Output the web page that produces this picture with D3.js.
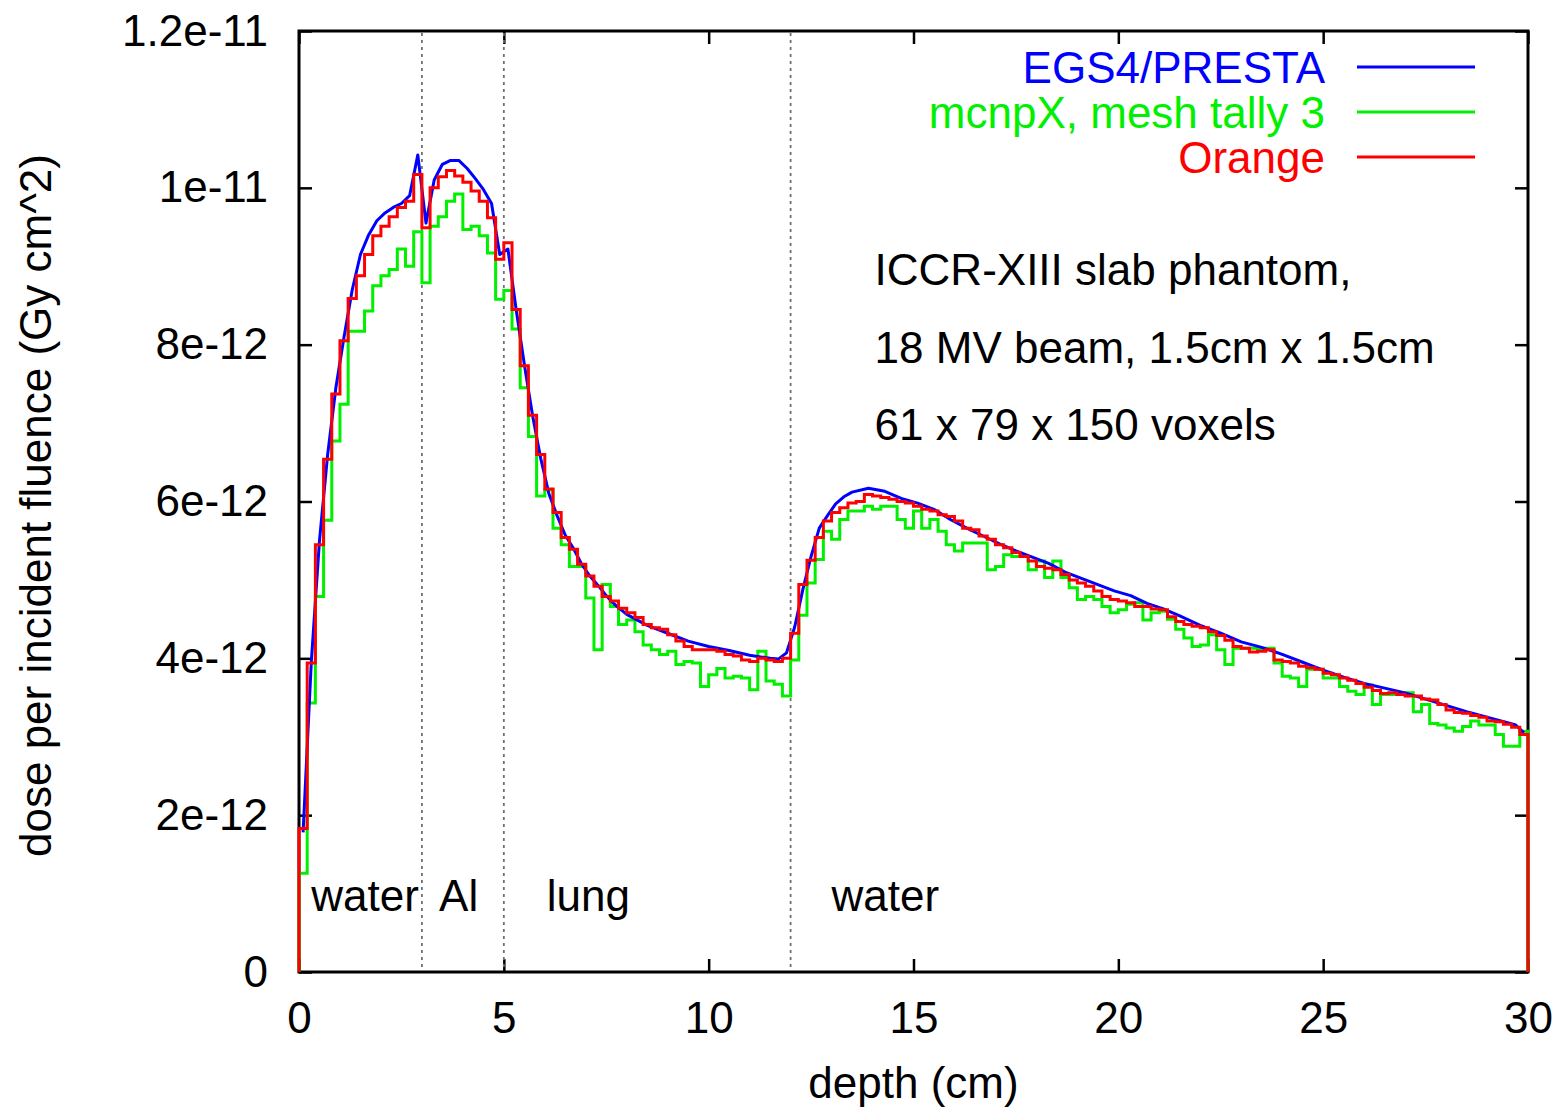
<!DOCTYPE html>
<html>
<head>
<meta charset="utf-8">
<script src="https://cdn.jsdelivr.net/npm/d3@7"></script>
<style>
  body { margin: 0; background: #fff; }
  text { font-family: "Liberation Sans", Arial, Helvetica, sans-serif; fill: #000; }
</style>
</head>
<body>
<script>
// DATA (dose values in units of 1e-12 Gy cm^2)
const binWidth = 0.2; // 150 voxels over 30 cm
const orangeDose = [
  1.83, 3.94, 5.45, 6.54, 7.37, 8.05, 8.59, 8.88, 9.15, 9.39,
  9.51, 9.63, 9.75, 9.83, 10.17, 9.49, 10.0, 10.14, 10.22, 10.15,
  10.07, 9.96, 9.83, 9.62, 9.09, 9.30, 8.45, 7.73, 7.10, 6.60,
  6.16, 5.86, 5.54, 5.39, 5.20, 5.05, 4.92, 4.79, 4.73, 4.64,
  4.58, 4.52, 4.43, 4.39, 4.37, 4.30, 4.22, 4.15, 4.11, 4.11,
  4.11, 4.09, 4.05, 4.03, 3.98, 3.96, 4.00, 3.98, 3.96, 4.00,
  4.32, 4.94, 5.25, 5.54, 5.75, 5.86, 5.92, 5.98, 6.00, 6.09,
  6.07, 6.05, 6.03, 6.00, 5.98, 5.94, 5.90, 5.88, 5.83, 5.81,
  5.75, 5.66, 5.64, 5.56, 5.52, 5.45, 5.41, 5.35, 5.30, 5.24,
  5.17, 5.15, 5.13, 5.07, 5.00, 4.96, 4.92, 4.86, 4.79, 4.75,
  4.73, 4.71, 4.66, 4.66, 4.63, 4.62, 4.53, 4.47, 4.43, 4.41,
  4.39, 4.34, 4.29, 4.23, 4.15, 4.13, 4.08, 4.09, 4.11, 3.98,
  3.96, 3.94, 3.90, 3.88, 3.86, 3.81, 3.79, 3.75, 3.72, 3.68,
  3.63, 3.59, 3.55, 3.56, 3.54, 3.52, 3.52, 3.48, 3.47, 3.41,
  3.34, 3.31, 3.30, 3.27, 3.25, 3.20, 3.19, 3.16, 3.12, 3.03
];
const mcnpDose = [
  1.26, 3.43, 4.79, 5.76, 6.77, 7.24, 8.17, 8.17, 8.43, 8.75,
  8.88, 8.96, 9.22, 9.00, 9.44, 8.79, 9.51, 9.63, 9.83, 9.92,
  9.47, 9.51, 9.39, 9.17, 8.58, 8.69, 8.20, 7.45, 6.83, 6.07,
  6.15, 5.66, 5.45, 5.17, 5.17, 4.77, 4.11, 4.94, 4.66, 4.43,
  4.49, 4.34, 4.17, 4.11, 4.05, 4.09, 3.92, 3.96, 3.94, 3.64,
  3.79, 3.87, 3.75, 3.77, 3.75, 3.60, 4.09, 3.71, 3.67, 3.52,
  3.98, 4.55, 4.96, 5.26, 5.62, 5.52, 5.77, 5.88, 5.88, 5.94,
  5.90, 5.94, 5.94, 5.77, 5.66, 5.88, 5.66, 5.77, 5.62, 5.45,
  5.37, 5.47, 5.47, 5.47, 5.13, 5.17, 5.32, 5.30, 5.30, 5.13,
  5.24, 5.03, 5.24, 5.03, 4.90, 4.75, 4.79, 4.75, 4.66, 4.58,
  4.62, 4.69, 4.71, 4.49, 4.58, 4.60, 4.50, 4.37, 4.26, 4.15,
  4.17, 4.30, 4.11, 3.92, 4.13, 4.13, 4.13, 4.12, 4.13, 3.94,
  3.77, 3.75, 3.64, 3.86, 3.86, 3.75, 3.75, 3.64, 3.58, 3.54,
  3.66, 3.41, 3.54, 3.54, 3.56, 3.56, 3.32, 3.41, 3.17, 3.15,
  3.11, 3.07, 3.13, 3.20, 3.15, 3.15, 3.03, 2.88, 2.88, 3.07
];
const egsDepth = [
  0.1, 0.3, 0.5, 0.7, 0.9, 1.1, 1.3, 1.5, 1.7, 1.9, 2.1, 2.3, 2.5, 2.7, 2.9,
  3.1, 3.3, 3.5, 3.7, 3.9, 4.1, 4.3, 4.5, 4.7, 4.9, 5.1, 5.3, 5.5, 5.7, 5.9,
  6.1, 6.3, 6.5, 6.7, 6.9, 7.1, 7.3, 7.5, 7.7, 8.0, 8.5, 9.0, 9.5, 10.0, 10.5,
  11.0, 11.5, 11.7, 11.9, 12.1, 12.3, 12.5, 12.7, 12.9, 13.1, 13.3, 13.5, 13.9, 14.3, 14.7,
  15.1, 15.5, 15.9, 16.3, 16.7, 17.1, 17.5, 17.9, 18.3, 18.7, 19.1, 19.5, 19.9, 20.3, 20.7,
  21.1, 21.5, 22.0, 22.5, 23.0, 23.5, 24.0, 24.5, 25.0, 25.5, 26.0, 26.5, 27.0, 27.5, 28.0,
  28.5, 29.0, 29.5, 29.7, 29.9
];
const egsDose = [
  1.78, 3.95, 5.50, 6.60, 7.45, 8.10, 8.70, 9.15, 9.40, 9.58, 9.68, 9.75, 9.80, 9.90, 10.42,
  9.55, 10.10, 10.30, 10.35, 10.35, 10.25, 10.12, 9.98, 9.80, 9.15, 9.22, 8.45, 7.75, 7.10, 6.55,
  6.10, 5.82, 5.57, 5.40, 5.20, 5.05, 4.93, 4.80, 4.69, 4.56, 4.42, 4.32, 4.22, 4.15, 4.10,
  4.04, 4.00, 3.99, 4.07, 4.40, 4.88, 5.30, 5.66, 5.82, 5.97, 6.06, 6.12, 6.17, 6.13, 6.04,
  5.98, 5.90, 5.77, 5.66, 5.56, 5.46, 5.37, 5.29, 5.21, 5.10, 5.02, 4.94, 4.86, 4.80, 4.70,
  4.63, 4.54, 4.42, 4.32, 4.21, 4.14, 4.05, 3.95, 3.85, 3.76, 3.68, 3.62, 3.56, 3.48, 3.40,
  3.32, 3.25, 3.18, 3.15, 3.05
];

const xTicks = [0, 5, 10, 15, 20, 25, 30];
const yTicks = [0, 2, 4, 6, 8, 10, 12];
const yTickLabels = ["0", "2e-12", "4e-12", "6e-12", "8e-12", "1e-11", "1.2e-11"];
const boundaryDepths = [3, 5, 12];
const regionLabels = ["water", "Al", "lung", "water"];
const regionDepths = [0.3, 3.42, 6.05, 13.0];
const seriesNames = ["EGS4/PRESTA", "mcnpX, mesh tally 3", "Orange"];
const seriesColors = ["#0000ff", "#00f000", "#ff0000"];
const noteLines = ["ICCR-XIII slab phantom,", "18 MV beam, 1.5cm x 1.5cm", "61 x 79 x 150 voxels"];

// SIZES
const W = 1560, H = 1108;
const plot = { left: 299, right: 1528, top: 31, bottom: 972 };
const fontSize = 44;
const lineW = 3;

const svg = d3.select("body").append("svg")
  .attr("width", W).attr("height", H);
svg.append("rect").attr("width", W).attr("height", H).attr("fill", "#fff");

// SCALES
const X = d3.scaleLinear().domain([0, 30]).range([plot.left, plot.right]);
const Y = d3.scaleLinear().domain([0, 12]).range([plot.bottom, plot.top]);

// AXES - gnuplot style, ticks pointing inward, mirrored
const tick = 13;
const axisStyle = g => {
  g.select(".domain").remove();
  g.selectAll("line").attr("stroke", "#000").attr("stroke-width", 2.5);
  g.selectAll("text").style("font-size", fontSize + "px")
    .style("font-family", '"Liberation Sans", Arial, sans-serif').attr("fill", "#000");
};
svg.append("g").attr("transform", `translate(0,${plot.bottom})`)
  .call(d3.axisBottom(X).tickValues(xTicks).tickSizeInner(-tick).tickSizeOuter(0).tickPadding(30))
  .call(axisStyle);
svg.append("g").attr("transform", `translate(0,${plot.top})`)
  .call(d3.axisTop(X).tickValues(xTicks).tickSizeInner(-tick).tickSizeOuter(0).tickFormat(""))
  .call(axisStyle);
svg.append("g").attr("transform", `translate(${plot.left},0)`)
  .call(d3.axisLeft(Y).tickValues(yTicks).tickSizeInner(-tick).tickSizeOuter(0).tickPadding(31)
    .tickFormat((d, i) => yTickLabels[i]))
  .call(axisStyle);
svg.append("g").attr("transform", `translate(${plot.right},0)`)
  .call(d3.axisRight(Y).tickValues(yTicks).tickSizeInner(-tick).tickSizeOuter(0).tickFormat(""))
  .call(axisStyle);

// FRAME
svg.append("rect")
  .attr("x", plot.left).attr("y", plot.top)
  .attr("width", plot.right - plot.left).attr("height", plot.bottom - plot.top)
  .attr("fill", "none").attr("stroke", "#000").attr("stroke-width", 3);

// AXIS TITLES
svg.append("text")
  .attr("x", (plot.left + plot.right) / 2).attr("y", 1098)
  .attr("text-anchor", "middle").style("font-size", fontSize + "px")
  .text("depth (cm)");
svg.append("text")
  .attr("transform", `translate(51,${(plot.top + plot.bottom) / 2 + 4}) rotate(-90)`)
  .attr("text-anchor", "middle").style("font-size", fontSize + "px")
  .text("dose per incident fluence (Gy cm^2)");

// MATERIAL BOUNDARIES
svg.selectAll(".boundary").data(boundaryDepths).join("line")
  .attr("class", "boundary")
  .attr("x1", d => X(d)).attr("x2", d => X(d))
  .attr("y1", plot.top + 2).attr("y2", plot.bottom - 2)
  .attr("stroke", "#707070").attr("stroke-width", 1.8)
  .attr("stroke-dasharray", "3,4");

svg.selectAll(".region").data(regionLabels).join("text")
  .attr("class", "region")
  .attr("x", (d, i) => X(regionDepths[i])).attr("y", Y(0.78))
  .style("font-size", fontSize + "px")
  .text(d => d);

// ANNOTATION
svg.selectAll(".note").data(noteLines).join("text")
  .attr("class", "note")
  .attr("x", X(14.05)).attr("y", (d, i) => Y(8.76 - i * 0.99))
  .style("font-size", fontSize + "px")
  .text(d => d);

// STEP HISTOGRAMS (bin edges, closed to zero at both ends)
const stepPoints = vals => {
  const pts = [[0, 0]];
  vals.forEach((v, i) => pts.push([i * binWidth, v]));
  pts.push([vals.length * binWidth, vals[vals.length - 1]]);
  pts.push([vals.length * binWidth, 0]);
  return pts;
};
const stepGen = d3.line().x(d => X(d[0])).y(d => Y(d[1])).curve(d3.curveStepAfter);
const lineGen = d3.line().x(d => X(d[0])).y(d => Y(d[1]));

svg.append("path")
  .attr("d", stepGen(stepPoints(mcnpDose)))
  .attr("fill", "none").attr("stroke", seriesColors[1]).attr("stroke-width", lineW)
  .attr("stroke-linejoin", "miter");

svg.append("path")
  .attr("d", lineGen(egsDepth.map((d, i) => [d, egsDose[i]])))
  .attr("fill", "none").attr("stroke", seriesColors[0]).attr("stroke-width", lineW)
  .attr("stroke-linejoin", "round");

svg.append("path")
  .attr("d", stepGen(stepPoints(orangeDose)))
  .attr("fill", "none").attr("stroke", seriesColors[2]).attr("stroke-width", lineW)
  .attr("stroke-linejoin", "miter");

// LEGEND
const legend = svg.append("g");
seriesNames.forEach((name, i) => {
  const ly = 67 + i * 45;
  legend.append("text")
    .attr("x", 1325).attr("y", ly + 16)
    .attr("text-anchor", "end")
    .style("font-size", fontSize + "px")
    .style("fill", seriesColors[i])
    .text(name);
  legend.append("line")
    .attr("x1", 1357).attr("x2", 1475).attr("y1", ly).attr("y2", ly)
    .attr("stroke", seriesColors[i]).attr("stroke-width", lineW);
});
</script>
</body>
</html>
